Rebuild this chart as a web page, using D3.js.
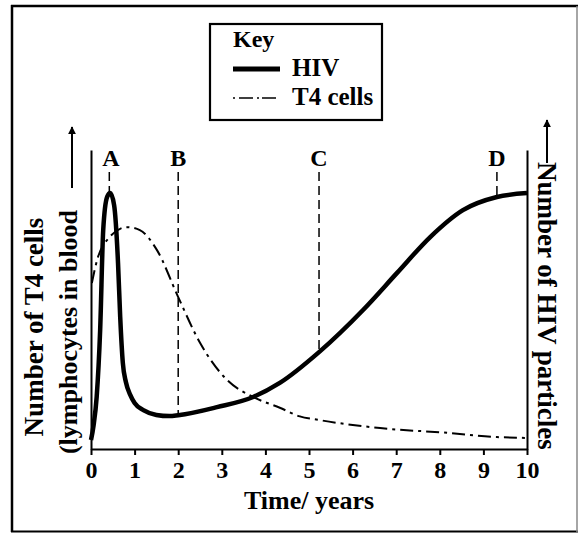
<!DOCTYPE html>
<html>
<head>
<meta charset="utf-8">
<script src="https://cdn.jsdelivr.net/npm/d3@7/dist/d3.min.js"></script>
<style>
  html, body { margin: 0; padding: 0; background: #fff; }
  svg { display: block; }
  text { font-family: "Liberation Serif", "Times New Roman", serif; font-weight: bold; fill: #000; }
</style>
</head>
<body>
<svg id="chart" width="579" height="534"></svg>
<script>
// Time axis ticks (years)
const yearTicks = [0, 1, 2, 3, 4, 5, 6, 7, 8, 9, 10];

// HIV particles in blood (relative units, 0-100)
const hivYears  = [0, 0.06, 0.13, 0.21, 0.28, 0.37, 0.44, 0.53, 0.62, 0.67, 0.73, 0.8, 0.9, 1.0, 1.2, 1.5, 1.8, 2.0, 2.89, 3.72, 4.33, 5.23, 6.24, 7.02, 7.78, 8.53, 9.31, 10];
const hivValues = [3, 8, 17.4, 39.8, 73.2, 84.3, 85.6, 81.6, 62.2, 44.1, 28.8, 22.4, 18.1, 15.4, 13.0, 11.4, 11.0, 11.3, 14.0, 17.4, 22.1, 32.4, 46.5, 58.9, 70.9, 79.9, 84.3, 85.6];

// T4 cells in blood (relative units, 0-100)
const t4Years  = [0.02, 0.14, 0.37, 0.83, 1.12, 1.51, 2.0, 2.5, 3.12, 3.72, 4.33, 4.79, 5.23, 6.63, 8.17, 9.31, 10];
const t4Values = [55.5, 63.2, 69.9, 74.2, 73.2, 66.6, 50.8, 35.5, 23.1, 17.4, 13.8, 10.9, 9.7, 7.0, 5.4, 4.0, 3.7];

// Stage markers: label, year, HIV level where the dashed guide stops
const markerLabels = ["A", "B", "C", "D"];
const markerYears  = [0.42, 2.0, 5.23, 9.31];
const markerLevels = [85.6, 11.3, 32.4, 84.3];

const svg = d3.select("#chart");

// outer frame
svg.append("line").attr("x1", 12).attr("y1", 5).attr("x2", 12).attr("y2", 532).attr("stroke", "#000").attr("stroke-width", 2.5);
svg.append("line").attr("x1", 11).attr("y1", 6).attr("x2", 578).attr("y2", 6).attr("stroke", "#000").attr("stroke-width", 2.5);
svg.append("line").attr("x1", 11).attr("y1", 531.5).attr("x2", 578).attr("y2", 531.5).attr("stroke", "#000").attr("stroke-width", 2);
svg.append("line").attr("x1", 577).attr("y1", 6).attr("x2", 577).attr("y2", 532).attr("stroke", "#888").attr("stroke-width", 1.5);

const x = d3.scaleLinear().domain([0, 10]).range([91, 527]);
const y = d3.scaleLinear().domain([0, 100]).range([449, 150]);

// x axis with downward ticks
const xAxis = d3.axisBottom(x).tickValues(yearTicks).tickSize(6).tickSizeOuter(0).tickFormat(d3.format("d"));
const gx = svg.append("g").attr("transform", `translate(0,${y(0)})`).call(xAxis);
gx.select(".domain").attr("stroke", "#000").attr("stroke-width", 2.2);
gx.selectAll(".tick line").attr("stroke", "#000").attr("stroke-width", 2);
gx.selectAll(".tick text")
  .attr("y", 29).attr("dy", 0)
  .style("font-family", '"Liberation Serif", "Times New Roman", serif')
  .style("font-weight", "bold").style("font-size", "24px").attr("fill", "#000");

// left and right vertical axes
const gyl = svg.append("g").attr("transform", `translate(${x(0)},0)`).call(d3.axisLeft(y).tickValues([]).tickSizeOuter(0));
gyl.select(".domain").attr("stroke", "#000").attr("stroke-width", 2);
const gyr = svg.append("g").attr("transform", `translate(${x(10)},0)`).call(d3.axisRight(y).tickValues([]).tickSizeOuter(0));
gyr.select(".domain").attr("stroke", "#000").attr("stroke-width", 2);

// stage guides
const guideTop = 172;
markerYears.forEach((yr, i) => {
  svg.append("line")
    .attr("x1", x(yr)).attr("x2", x(yr))
    .attr("y1", guideTop).attr("y2", y(markerLevels[i]))
    .attr("stroke", "#000").attr("stroke-width", 1.5)
    .attr("stroke-dasharray", "9,5");
  svg.append("text")
    .attr("x", x(yr) + (i === 0 ? 1.5 : 0)).attr("y", 166)
    .attr("text-anchor", "middle").style("font-size", "24px")
    .text(markerLabels[i]);
});

// T4 cells curve (dash-dot)
const t4Line = d3.line().x(d => x(d[0])).y(d => y(d[1])).curve(d3.curveMonotoneX);
svg.append("path")
  .datum(t4Years.map((d, i) => [d, t4Values[i]]))
  .attr("d", t4Line)
  .attr("fill", "none").attr("stroke", "#000").attr("stroke-width", 2)
  .attr("stroke-dasharray", "13,5,3,5");

// HIV curve (thick solid)
const hivLine = d3.line().x(d => x(d[0])).y(d => y(d[1])).curve(d3.curveMonotoneX);
svg.append("path")
  .datum(hivYears.map((d, i) => [d, hivValues[i]]))
  .attr("d", hivLine)
  .attr("fill", "none").attr("stroke", "#000").attr("stroke-width", 4.5)
  .attr("stroke-linejoin", "round");

// axis titles
svg.append("text").attr("x", 309).attr("y", 509).attr("text-anchor", "middle")
  .style("font-size", "26px").text("Time/ years");

svg.append("text").attr("transform", "translate(43,327) rotate(-90)").attr("text-anchor", "middle")
  .style("font-size", "27px").text("Number of T4 cells");
svg.append("text").attr("transform", "translate(77,332) rotate(-90)").attr("text-anchor", "middle")
  .style("font-size", "26px").text("(lymphocytes in blood");
svg.append("text").attr("transform", "translate(538,162) rotate(90)").attr("text-anchor", "start")
  .style("font-size", "27px").text("Number of HIV particles");

// arrows beside the vertical titles
svg.append("defs").append("marker")
  .attr("id", "arrowhead").attr("viewBox", "0 0 10 10").attr("refX", 9).attr("refY", 5)
  .attr("markerWidth", 8).attr("markerHeight", 11).attr("markerUnits", "userSpaceOnUse")
  .attr("orient", "auto")
  .append("path").attr("d", "M0,0 L10,5 L0,10 Z").attr("fill", "#000");
svg.append("line").attr("x1", 72).attr("y1", 188).attr("x2", 72).attr("y2", 127)
  .attr("stroke", "#000").attr("stroke-width", 2).attr("marker-end", "url(#arrowhead)");
svg.append("line").attr("x1", 547).attr("y1", 163).attr("x2", 547).attr("y2", 120)
  .attr("stroke", "#000").attr("stroke-width", 2).attr("marker-end", "url(#arrowhead)");

// key
const key = svg.append("g");
key.append("rect").attr("x", 210).attr("y", 24).attr("width", 172).attr("height", 96)
  .attr("fill", "#fff").attr("stroke", "#000").attr("stroke-width", 2.2);
key.append("text").attr("x", 233).attr("y", 47).style("font-size", "24px").text("Key");
key.append("line").attr("x1", 233).attr("x2", 280).attr("y1", 69).attr("y2", 69)
  .attr("stroke", "#000").attr("stroke-width", 5);
key.append("text").attr("x", 292).attr("y", 76).style("font-size", "25px").text("HIV");
key.append("line").attr("x1", 233).attr("x2", 276).attr("y1", 98).attr("y2", 98)
  .attr("stroke", "#000").attr("stroke-width", 1.6).attr("stroke-dasharray", "2,4,14,4,2,3,12,0");
key.append("text").attr("x", 292).attr("y", 105).style("font-size", "25px").text("T4 cells");
</script>
</body>
</html>
